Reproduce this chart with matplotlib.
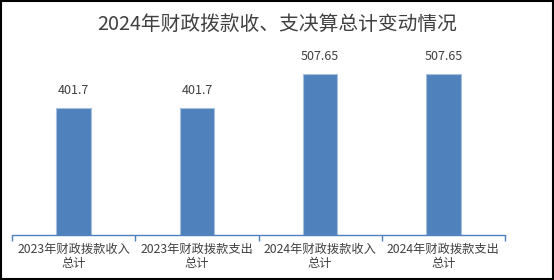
import matplotlib
matplotlib.use("Agg")
import matplotlib.pyplot as plt
from matplotlib.patches import Rectangle

plt.rcParams['font.family'] = ['Noto Sans CJK SC', 'DejaVu Sans']

title = "2024年财政拨款收、支决算总计变动情况"
categories = ["2023年财政拨款收入\n总计", "2023年财政拨款支出\n总计",
              "2024年财政拨款收入\n总计", "2024年财政拨款支出\n总计"]
values = [401.7, 401.7, 507.65, 507.65]
labels = ["401.7", "401.7", "507.65", "507.65"]

W, H = 554, 280
fig = plt.figure(figsize=(W / 100, H / 100), dpi=100)

# axes box in pixels: left 12, right 505, baseline 235, top 45
ax = fig.add_axes([12 / W, (H - 235) / H, (505 - 12) / W, 190 / H])

x = list(range(len(values)))
ax.bar(x, values, width=0.28, color='#4F81BD', edgecolor='#A7C0E0', linewidth=0.8, zorder=2)

for xi, v, lab in zip(x, values, labels):
    ax.annotate(lab, (xi, v), xytext=(0, 8), textcoords='offset points',
                ha='center', va='bottom', fontsize=9, color='#404040')

ax.set_xlim(-0.5, 3.5)
ax.set_ylim(0, 600)
for s in ['top', 'left', 'right']:
    ax.spines[s].set_visible(False)
ax.spines['bottom'].set_color('#4F81BD')
ax.spines['bottom'].set_linewidth(1.0)
ax.set_yticks([])

ax.set_xticks([-0.5, 0.5, 1.5, 2.5, 3.5])
ax.set_xticklabels([])
ax.tick_params(axis='x', which='major', length=4, color='#4F81BD', width=1.0)
ax.set_xticks(x, minor=True)
ax.set_xticklabels(categories, minor=True, fontsize=8.8, color='#404040', linespacing=1.05)
ax.tick_params(axis='x', which='minor', length=0, pad=6)

fig.text(0.5, (H - 24) / H, title, ha='center', va='center', fontsize=14.2, color='#404040')

# outer frame
fig.patches.append(Rectangle((0.5 / W, 1 / H), (W - 2) / W, (H - 2) / H, transform=fig.transFigure,
                             fill=False, edgecolor='black', linewidth=1.5))

fig.savefig("out.png", dpi=100)
